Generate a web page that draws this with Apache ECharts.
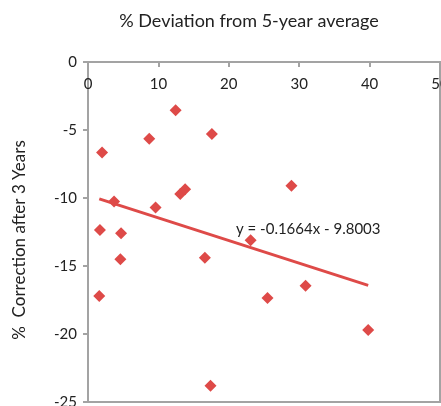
<!DOCTYPE html>
<html>
<head>
<meta charset="utf-8">
<script src="https://cdn.jsdelivr.net/npm/echarts@6/dist/echarts.min.js"></script>
<style>
  html, body { margin: 0; padding: 0; background: #fff; }
  #chart { width: 441px; height: 406px; }
</style>
</head>
<body>
<div id="chart"></div>
<script>
// % deviation from 5-year average (x) vs % correction after 3 years (y)
const deviation = [1.6, 1.7, 2.0, 3.7, 4.6, 4.7, 8.7, 9.6, 12.45, 13.1, 13.8, 16.6, 17.4, 17.6, 23.1, 25.5, 28.9, 30.9, 39.8];
const correction = [-17.2, -12.35, -6.65, -10.25, -14.5, -12.6, -5.65, -10.7, -3.55, -9.7, -9.35, -14.4, -23.8, -5.3, -13.1, -17.35, -9.1, -16.45, -19.7];

// linear trendline from the chart
const slope = -0.1664;
const intercept = -9.8003;

const xTicks = [0, 10, 20, 30, 40, 50];
const yTicks = [0, -5, -10, -15, -20, -25];

const red = '#DE4A48';
const axisGray = '#a3a3a3';
const font = 'Lato, "Open Sans", sans-serif';

const points = deviation.map((x, i) => [x, correction[i]]);
const xMin = Math.min(...deviation), xMax = Math.max(...deviation);
const trend = [[xMin, slope * xMin + intercept], [xMax, slope * xMax + intercept]];

const chart = echarts.init(document.getElementById('chart'));
chart.setOption({
  animation: false,
  textStyle: { fontFamily: font },
  title: {
    text: '% Deviation from 5-year average',
    left: 244,
    top: 7,
    textAlign: 'center',
    textStyle: { fontFamily: font, fontSize: 18, fontWeight: 'normal', color: '#222' }
  },
  grid: {
    left: 88, top: 62, right: 1, bottom: 4,
    outerBoundsMode: 'none',
    containLabel: false,
    show: true, borderColor: axisGray, borderWidth: 2
  },
  xAxis: {
    type: 'value',
    position: 'top',
    min: xTicks[0], max: xTicks[xTicks.length - 1], interval: 10,
    splitLine: { show: false },
    axisLine: { onZero: false, lineStyle: { color: axisGray, width: 2 } },
    axisTick: { inside: true, length: 5, lineStyle: { color: axisGray, width: 2 } },
    axisLabel: { inside: true, margin: 15, fontSize: 15, color: '#222', fontFamily: font }
  },
  yAxis: {
    type: 'value',
    min: yTicks[yTicks.length - 1], max: yTicks[0], interval: 5,
    splitLine: { show: false },
    axisLine: { onZero: false, lineStyle: { color: axisGray, width: 2 } },
    axisTick: { length: 5, lineStyle: { color: axisGray, width: 2 } },
    axisLabel: { margin: 11, fontSize: 15, color: '#222', fontFamily: font }
  },
  graphic: [
    {
      type: 'text',
      x: 20, y: 240,
      rotation: Math.PI / 2,
      style: {
        text: '%  Correction after 3 Years',
        fontFamily: font, fontSize: 17, fill: '#222',
        align: 'center', verticalAlign: 'middle'
      }
    },
    {
      type: 'text',
      x: 236, y: 229,
      style: {
        text: 'y = -0.1664x - 9.8003',
        fontFamily: font, fontSize: 15, fill: '#222',
        align: 'left', verticalAlign: 'middle'
      }
    }
  ],
  series: [
    {
      type: 'scatter',
      data: points,
      symbol: 'diamond',
      symbolSize: 12,
      itemStyle: { color: red, opacity: 1 }
    },
    {
      type: 'line',
      data: trend,
      symbol: 'none',
      lineStyle: { color: red, width: 3 },
      z: 1
    }
  ]
});
</script>
</body>
</html>
